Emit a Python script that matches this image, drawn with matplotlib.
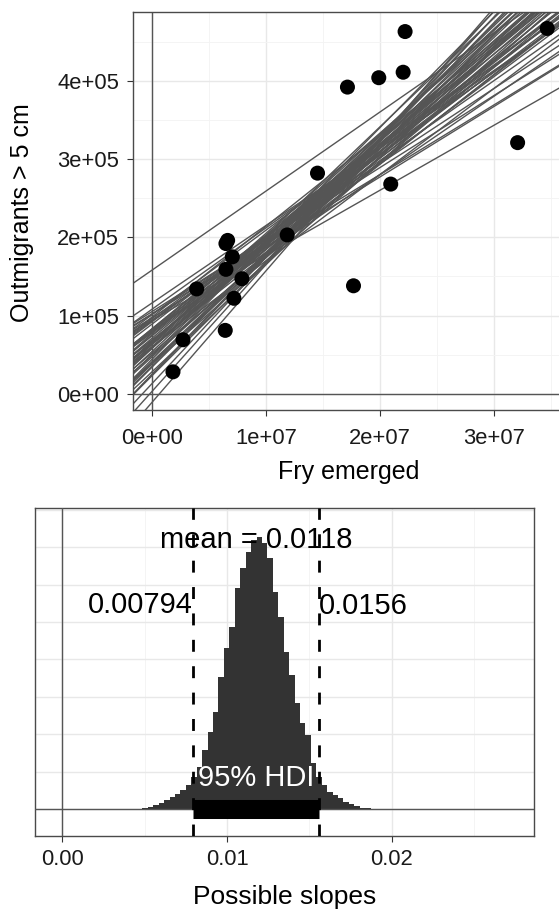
import numpy as np
import matplotlib.pyplot as plt

plt.rcParams['font.family'] = ['Liberation Sans', 'DejaVu Sans']

# observed data: fry emerged vs outmigrants > 5 cm
fry = [1.84e6, 2.72e6, 3.92e6, 6.49e6, 6.64e6, 7.05e6, 6.49e6, 7.89e6, 7.19e6, 6.43e6,
       1.187e7, 1.453e7, 1.716e7, 1.769e7, 1.991e7, 2.205e7, 2.222e7, 2.096e7, 3.21e7, 3.47e7]
outm = [2.8e4, 6.9e4, 1.34e5, 1.92e5, 1.96e5, 1.75e5, 1.59e5, 1.47e5, 1.22e5, 8.1e4,
        2.03e5, 2.82e5, 3.92e5, 1.38e5, 4.04e5, 4.11e5, 4.63e5, 2.68e5, 3.21e5, 4.67e5]

# posterior draws of the regression line (intercept in 1e3, slope in 1e-3)
intercepts = [74, 59, 89, 40, 83, 93, 78, 77, 63, 38, 58, 38, 102, 24, 108, 102, 98, 80, 58, 3,
              44, 60, 71, 105, 63, 23, 97, 94, 158, -11, 13, 81, 101, 64, 50, 28, 116, 94, 49, 82,
              79, 66, 47, 83, 52, 66, 34, 96, 69, 60,
              66, 41, 67, 68, 75, 25, 54, 35, 92, 81]
slopes = [11.8, 12.5, 11.2, 13.4, 12.0, 10.6, 10.9, 12.8, 11.5, 14.2, 13.6, 12.9, 9.6, 15.0, 10.4,
          8.9, 11.6, 10.0, 13.0, 16.2, 14.8, 11.0, 12.3, 9.2, 13.9, 14.5, 9.0, 8.3, 10.1, 16.8,
          15.6, 11.4, 10.8, 12.1, 14.0, 13.7, 9.9, 10.2, 12.7, 11.9,
          11.1, 12.6, 13.1, 11.7, 12.2, 13.3, 14.6, 10.5, 11.6, 12.9,
          12.4, 13.8, 12.8, 11.3, 12.5, 15.2, 13.5, 14.1, 10.9, 11.2]

x_ticks = [0, 1e7, 2e7, 3e7]
x_ticklabels = ['0e+00', '1e+07', '2e+07', '3e+07']
y_ticks = [0, 1e5, 2e5, 3e5, 4e5]
y_ticklabels = ['0e+00', '1e+05', '2e+05', '3e+05', '4e+05']

# histogram of slope posterior
bin_start = 0.00453
bin_width = 0.00033
counts = [10, 40, 60, 100, 150, 230, 320, 400, 510, 640, 860, 1130, 1580, 2070, 2600, 3540,
          4300, 4870, 5900, 6440, 6880, 7190, 7270, 7100, 6700, 5810, 5140, 4210, 3580, 2830,
          2290, 1980, 1220, 860, 640, 460, 370, 290, 200, 130, 80, 40, 20]
slope_mean = 0.0118
hdi_low, hdi_high = 0.00794, 0.0156

W, H = 559, 911
fig = plt.figure(figsize=(W / 100, H / 100), dpi=100)

grid_major = '#e8e8e8'
grid_minor = '#f3f3f3'
frame = '#4a4a4a'

# ---- top panel ----
ax1 = fig.add_axes([133 / W, 1 - 410 / H, (570 - 133) / W, (410 - 12) / H])
xlim = (-1.67e6, 3.67e7)
ylim = (-2.08e4, 4.88e5)
ax1.set_xlim(xlim)
ax1.set_ylim(ylim)
ax1.set_xticks(x_ticks)
ax1.set_xticklabels(x_ticklabels)
ax1.set_yticks(y_ticks)
ax1.set_yticklabels(y_ticklabels)
ax1.set_xticks([0.5e7, 1.5e7, 2.5e7, 3.5e7], minor=True)
ax1.set_yticks([0.5e5, 1.5e5, 2.5e5, 3.5e5, 4.5e5], minor=True)
ax1.grid(which='major', color=grid_major, lw=1.0)
ax1.grid(which='minor', color=grid_minor, lw=0.6)
ax1.set_axisbelow(True)
ax1.tick_params(which='minor', length=0)
ax1.tick_params(which='major', length=4.3, width=0.8, color='#333333', labelsize=15.8,
                labelcolor='#1a1a1a')
ax1.tick_params(axis='x', pad=8.9)
ax1.tick_params(axis='y', pad=5.8)
for s in ax1.spines.values():
    s.set_color(frame)
    s.set_linewidth(1.0)

ax1.axvline(0, color='#555555', lw=1.0)
ax1.axhline(0, color='#555555', lw=1.0)
xs = np.array(xlim)
for a, b in zip(intercepts, slopes):
    ax1.plot(xs, a * 1e3 + b * 1e-3 * xs, color='#555555', lw=1.0)
ax1.scatter(fry, outm, s=117, color='black', edgecolors='none', zorder=5)

fig.text(22 / W, 1 - 213 / H, 'Outmigrants > 5 cm', rotation=90, ha='center', va='center',
         fontsize=18)
fig.text(349 / W, 1 - 472 / H, 'Fry emerged', ha='center', va='center', fontsize=18)

# ---- bottom panel ----
ax2 = fig.add_axes([34.7 / W, 1 - 835.7 / H, (534.3 - 34.7) / W, (835.7 - 508.3) / H])
ax2.set_xlim(-0.00168, 0.02866)
ax2.set_ylim(-714, 8040)
ax2.set_xticks([0, 0.01, 0.02])
ax2.set_xticklabels(['0.00', '0.01', '0.02'])
ax2.set_xticks([0.005, 0.015, 0.025], minor=True)
ax2.set_yticks(range(0, 8001, 1000))
ax2.grid(which='major', color=grid_major, lw=1.0)
ax2.grid(which='minor', axis='x', color=grid_minor, lw=0.6)
ax2.set_axisbelow(True)
ax2.tick_params(which='minor', length=0)
ax2.tick_params(axis='x', which='major', length=4.3, width=0.8, color='#333333',
                labelsize=15.8, labelcolor='#1a1a1a', pad=5.3)
ax2.tick_params(axis='y', left=False, labelleft=False)
for s in ax2.spines.values():
    s.set_color(frame)
    s.set_linewidth(1.0)

edges = bin_start + bin_width * np.arange(len(counts))
ax2.bar(edges, counts, width=bin_width, align='edge', color='#333333', lw=0, zorder=2)
ax2.axvline(0, color='#555555', lw=1.0, zorder=3)
ax2.axhline(0, color='#555555', lw=1.0, zorder=3)
for v in (hdi_low, hdi_high):
    ax2.axvline(v, color='black', lw=2.0, linestyle=(0, (4.3, 5.2)), zorder=4)
ax2.plot([hdi_low, hdi_high], [0, 0], color='black', lw=13.7, solid_capstyle='butt', zorder=5)

ax2.text(slope_mean, 7180, 'mean = %.4f' % slope_mean, ha='center', va='center',
         fontsize=21, zorder=6)
ax2.text(hdi_low, 5450, '%.5f' % hdi_low, ha='right', va='center', fontsize=21, zorder=6)
ax2.text(hdi_high, 5430, '%.4f' % hdi_high, ha='left', va='center', fontsize=21, zorder=6)
ax2.text((hdi_low + hdi_high) / 2, 820, '95% HDI', ha='center', va='center', fontsize=21,
         color='white', zorder=6)

fig.text(284.3 / W, 1 - 896.7 / H, 'Possible slopes', ha='center', va='center', fontsize=19)

fig.savefig('out.png', dpi=100)
